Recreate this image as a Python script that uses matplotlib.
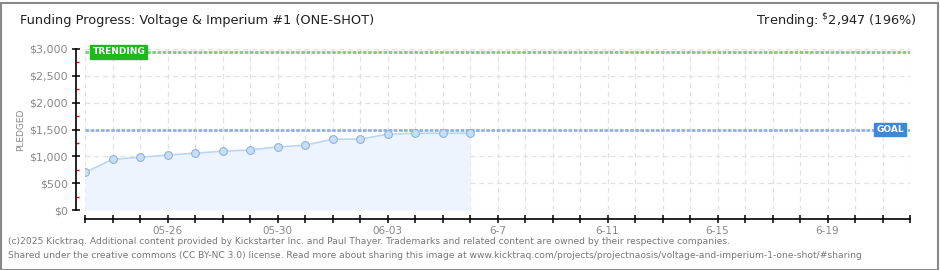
import matplotlib
matplotlib.use("Agg")
import matplotlib.pyplot as plt
import matplotlib.dates as mdates
from matplotlib.patches import Rectangle
import numpy as np
import datetime as dt

# ---- data ----
dates = ["2025-05-23", "2025-05-24", "2025-05-25", "2025-05-26", "2025-05-27",
         "2025-05-28", "2025-05-29", "2025-05-30", "2025-05-31", "2025-06-01",
         "2025-06-02", "2025-06-03", "2025-06-04", "2025-06-05", "2025-06-06"]
pledged = [700, 945, 982, 1025, 1058, 1095, 1120, 1175, 1207, 1320,
           1320, 1412, 1430, 1431, 1431]
goal = 1500
trending = 2947
trending_pct = 196
x_start, x_end = "2025-05-23", "2025-06-22"
tick_dates = ["2025-05-26", "2025-05-30", "2025-06-03", "2025-06-07",
              "2025-06-11", "2025-06-15", "2025-06-19"]
tick_labels = ["05-26", "05-30", "06-03", "6-7", "6-11", "6-15", "6-19"]
y_ticks = [0, 500, 1000, 1500, 2000, 2500, 3000]
y_labels = ["$0", "$500", "$1,000", "$1,500", "$2,000", "$2,500", "$3,000"]
title = "Funding Progress: Voltage & Imperium #1 (ONE-SHOT)"

plt.rcParams['font.family'] = ['DejaVu Sans']

W, H = 940, 270
fig = plt.figure(figsize=(W / 100, H / 100), dpi=100)
fig.patch.set_facecolor("white")

ax = fig.add_axes([85 / W, (H - 210) / H, (910 - 85) / W, (210 - 49) / H])

xd = [dt.datetime.strptime(d, "%Y-%m-%d") for d in dates]
xn = mdates.date2num(xd)
x0 = mdates.date2num(dt.datetime.strptime(x_start, "%Y-%m-%d"))
x1 = mdates.date2num(dt.datetime.strptime(x_end, "%Y-%m-%d"))

ax.fill_between(xn, pledged, 0, color="#edf4fd", zorder=1, lw=0)
ax.plot(xn, pledged, color="#b9d7f4", lw=1.2, zorder=3)
ax.plot(xn, pledged, ls="none", marker="o", ms=5.6, mfc="#c6def7",
        mec="#93b3d8", mew=0.8, zorder=4)

ax.axhline(trending, color="#76d276", lw=2.0, ls=(0, (1.3, 0.55)), zorder=2)
ax.axhline(goal, color="#8fb3df", lw=2.0, ls=(0, (1.3, 0.55)), zorder=2)

ax.set_xlim(x0, x1)
ax.set_ylim(0, 3000)

ax.set_xticks(mdates.date2num([dt.datetime.strptime(d, "%Y-%m-%d") for d in tick_dates]))
ax.set_xticklabels(tick_labels)
ax.set_xticks(np.arange(x0, x1 + 0.5, 1), minor=True)
ax.set_yticks(y_ticks)
ax.set_yticklabels(y_labels)
ax.set_yticks(np.arange(250, 3000, 500), minor=True)

for xv in np.arange(x0, x1 + 0.5, 1):
    ax.axvline(xv, color="#e2e2e2", lw=0.9, ls=(0, (4, 3)), zorder=0)
for yv in y_ticks:
    ax.axhline(yv, color="#e2e2e2", lw=0.9, ls=(0, (4, 3)), zorder=0)

for s in ["top", "right"]:
    ax.spines[s].set_visible(False)
ax.spines["left"].set_position(("outward", 6.5))
ax.spines["bottom"].set_position(("outward", 6.5))
ax.spines["left"].set_linewidth(1.2)
ax.spines["bottom"].set_linewidth(1.2)

ax.tick_params(axis="x", which="both", direction="inout", length=6, width=1.1,
               colors="black", labelcolor="#888888", labelsize=7.5, pad=2)
ax.tick_params(axis="y", which="major", direction="inout", length=6, width=1.1,
               colors="black", labelcolor="#888888", labelsize=8, pad=3)
ax.tick_params(axis="y", which="minor", direction="in", length=2.5, width=1,
               colors="red")

ax.set_ylabel("PLEDGED", color="#888888", fontsize=6.5, labelpad=3)

ax.text(0.009, trending, "TRENDING", transform=ax.get_yaxis_transform(),
        ha="left", va="center", color="white", fontsize=6.5, fontweight="bold",
        bbox=dict(boxstyle="square,pad=0.25", fc="#1fb81f", ec="#1fb81f"),
        zorder=6)
ax.text(0.993, goal, "GOAL", transform=ax.get_yaxis_transform(),
        ha="right", va="center", color="white", fontsize=6.5, fontweight="bold",
        bbox=dict(boxstyle="square,pad=0.25", fc="#3f88d8", ec="#3f88d8"),
        zorder=6)

fig.text(20 / W, 1 - 21 / H, title, fontsize=9.3, color="#222222",
         ha="left", va="center")
fig.text(917 / W, 1 - 21 / H, f"Trending: $\\mathregular{{^{{\\$}}}}${trending:,} ({trending_pct}%)",
         fontsize=9.3, color="#222222", ha="right", va="center")

foot1 = ("(c)2025 Kicktraq. Additional content provided by Kickstarter Inc. and Paul Thayer. "
         "Trademarks and related content are owned by their respective companies.")
foot2 = ("Shared under the creative commons (CC BY-NC 3.0) license. Read more about sharing "
         "this image at www.kicktraq.com/projects/projectnaosis/voltage-and-imperium-1-one-shot/#sharing")
fig.text(8 / W, 1 - 242 / H, foot1, fontsize=6.6, color="#777777", ha="left", va="center")
fig.text(8 / W, 1 - 255 / H, foot2, fontsize=6.6, color="#777777", ha="left", va="center")

fig.patches.append(Rectangle((0.5 / W, 0.5 / H), (W - 3) / W, (H - 3) / H,
                             transform=fig.transFigure, fill=False,
                             ec="#888888", lw=1.5))

fig.savefig("out.png", dpi=100)
